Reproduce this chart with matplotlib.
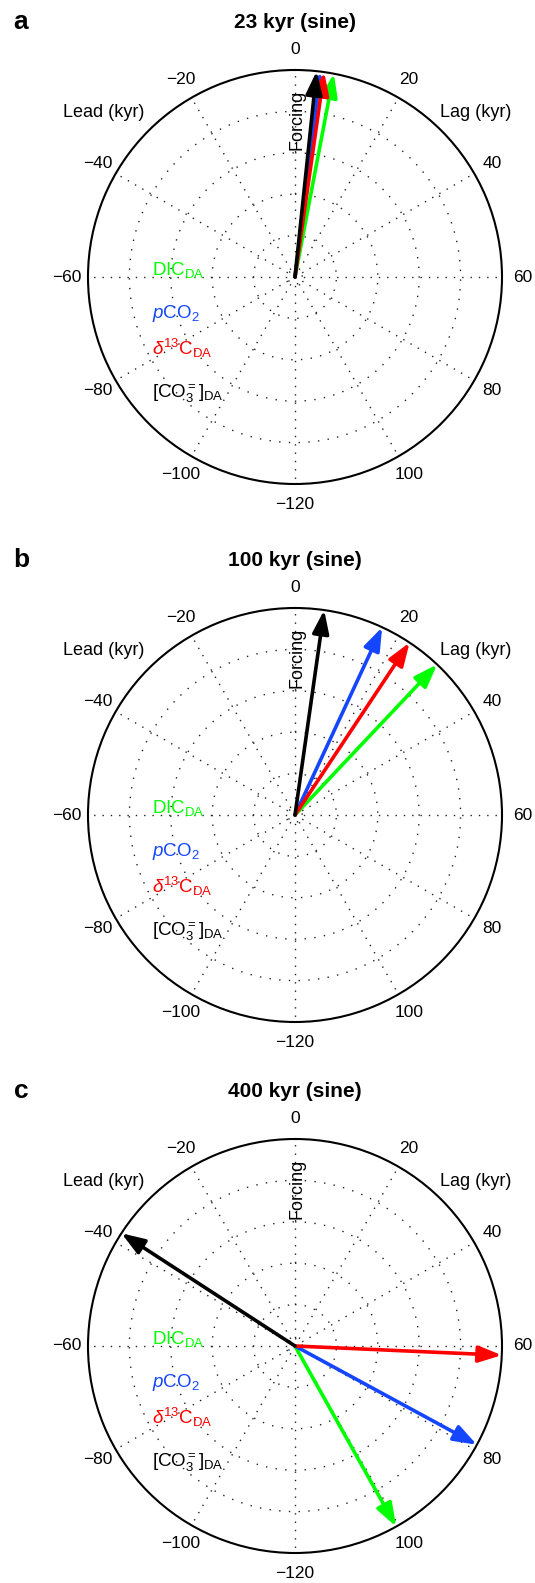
import numpy as np
import matplotlib
matplotlib.use("Agg")
import matplotlib.pyplot as plt
from matplotlib.patches import ArrowStyle

plt.rcParams['font.family'] = ['Liberation Sans', 'DejaVu Sans']
plt.rcParams['mathtext.fontset'] = 'custom'
plt.rcParams['mathtext.rm'] = 'Liberation Sans'
plt.rcParams['mathtext.it'] = 'Liberation Sans:italic'
plt.rcParams['mathtext.bf'] = 'Liberation Sans:bold'

# ---- data ----
panel_letters = ['a', 'b', 'c']
panel_titles = ['23 kyr (sine)', '100 kyr (sine)', '400 kyr (sine)']
series_names = ['DIC_DA', 'pCO2', 'd13C_DA', 'CO3_DA']
series_colors = ['#00ff00', '#1446ff', '#ff0000', '#000000']
# lags (kyr) per panel
lag_dic = [7.2, 28.9, 100.5]
lag_pco2 = [4.7, 16.6, 79.0]
lag_d13c = [5.4, 22.4, 61.7]
lag_co3 = [4.0, 5.4, -38.0]
# normalised amplitudes
amp_dic = [1.0, 1.0, 1.0]
amp_pco2 = [1.0, 1.0, 1.0]
amp_d13c = [1.0, 1.0, 1.0]
amp_co3 = [1.0, 1.0, 1.0]
tick_values = [0, 20, 40, 60, 80, 100, -120, -100, -80, -60, -40, -20]
legend_labels = [r'DIC$_\mathrm{DA}$', r'$\mathit{p}$CO$_2$',
                 r'$\delta^{13}$C$_\mathrm{DA}$', r'$[\mathrm{CO}_3^{=}]_\mathrm{DA}$']
ring_radii = [0.035, 0.2, 0.4, 0.6, 0.8]

DEG_PER_KYR = 1.5  # 240 kyr full circle

W, H = 535, 1583
fig = plt.figure(figsize=(W / 100, H / 100), dpi=100)

R = 207.0
cx = 295.0
centers_y = [277.0, 815.0, 1346.0]

lags = [lag_dic, lag_pco2, lag_d13c, lag_co3]
amps = [amp_dic, amp_pco2, amp_d13c, amp_co3]

for p in range(3):
    cy = centers_y[p]
    ax = fig.add_axes([(cx - R) / W, 1 - (cy + R) / H, 2 * R / W, 2 * R / H],
                      projection='polar')
    ax.set_theta_zero_location('N')
    ax.set_theta_direction(-1)
    ax.set_ylim(0, 1)
    ax.grid(False)
    ax.set_xticks([])
    ax.set_yticks([])
    ax.spines['polar'].set_linewidth(1.5)
    ax.spines['polar'].set_color('black')

    # dotted rings
    th = np.linspace(0, 2 * np.pi, 400)
    for rr in ring_radii:
        ax.plot(th, np.full_like(th, rr), color='#222222', lw=1.0,
                ls=(0, (1, 6)), zorder=1)
    # dotted spokes
    for k in range(12):
        a = np.deg2rad(30 * k)
        ax.plot([a, a], [0, 1], color='#222222', lw=1.0, ls=(0, (1, 5)), zorder=1)

    # angular labels
    for k, v in enumerate(tick_values):
        a = np.deg2rad(30 * k)
        lab = str(v).replace('-', '\u2212')
        ax.text(a, 1.1, lab, ha='center', va='center', fontsize=12.5)

    # arrows
    for s in range(4):
        ang = np.deg2rad(lags[s][p] * DEG_PER_KYR)
        ax.annotate('', xy=(ang, amps[s][p]), xytext=(ang, 0.0),
                    arrowprops=dict(arrowstyle=ArrowStyle('-|>', head_length=0.7, head_width=0.25),
                                    mutation_scale=20, color=series_colors[s],
                                    lw=2.6, shrinkA=0, shrinkB=0),
                    zorder=3 + s)

    # Lead / Lag
    ax.text(0.5 - 151 / (2 * R), 0.5 + 164.5 / (2 * R), 'Lead (kyr)', transform=ax.transAxes,
            ha='right', va='center', fontsize=13)
    ax.text(0.5 + 145 / (2 * R), 0.5 + 164.5 / (2 * R), 'Lag (kyr)', transform=ax.transAxes,
            ha='left', va='center', fontsize=13)
    # Forcing
    ax.text(0.5 + 2 / (2 * R), 0.5 + 157 / (2 * R), 'Forcing', transform=ax.transAxes,
            ha='center', va='center', rotation=90, fontsize=13)

    # legend texts
    base_offsets = [2, -41, -78, -121]
    for s in range(4):
        ax.text(0.5 - 143 / (2 * R), 0.5 + base_offsets[s] / (2 * R), legend_labels[s],
                transform=ax.transAxes, ha='left', va='baseline', fontsize=13.5,
                color=series_colors[s])

    # title and panel letter
    ax.text(0.5, 0.5 + 249 / (2 * R), panel_titles[p], transform=ax.transAxes,
            ha='center', va='baseline', fontsize=15, fontweight='bold')
    ax.text((13.5 - (cx - R)) / (2 * R), 0.5 + 248 / (2 * R), panel_letters[p],
            transform=ax.transAxes, ha='left', va='baseline', fontsize=19,
            fontweight='bold')

fig.savefig('out.png', dpi=100)
